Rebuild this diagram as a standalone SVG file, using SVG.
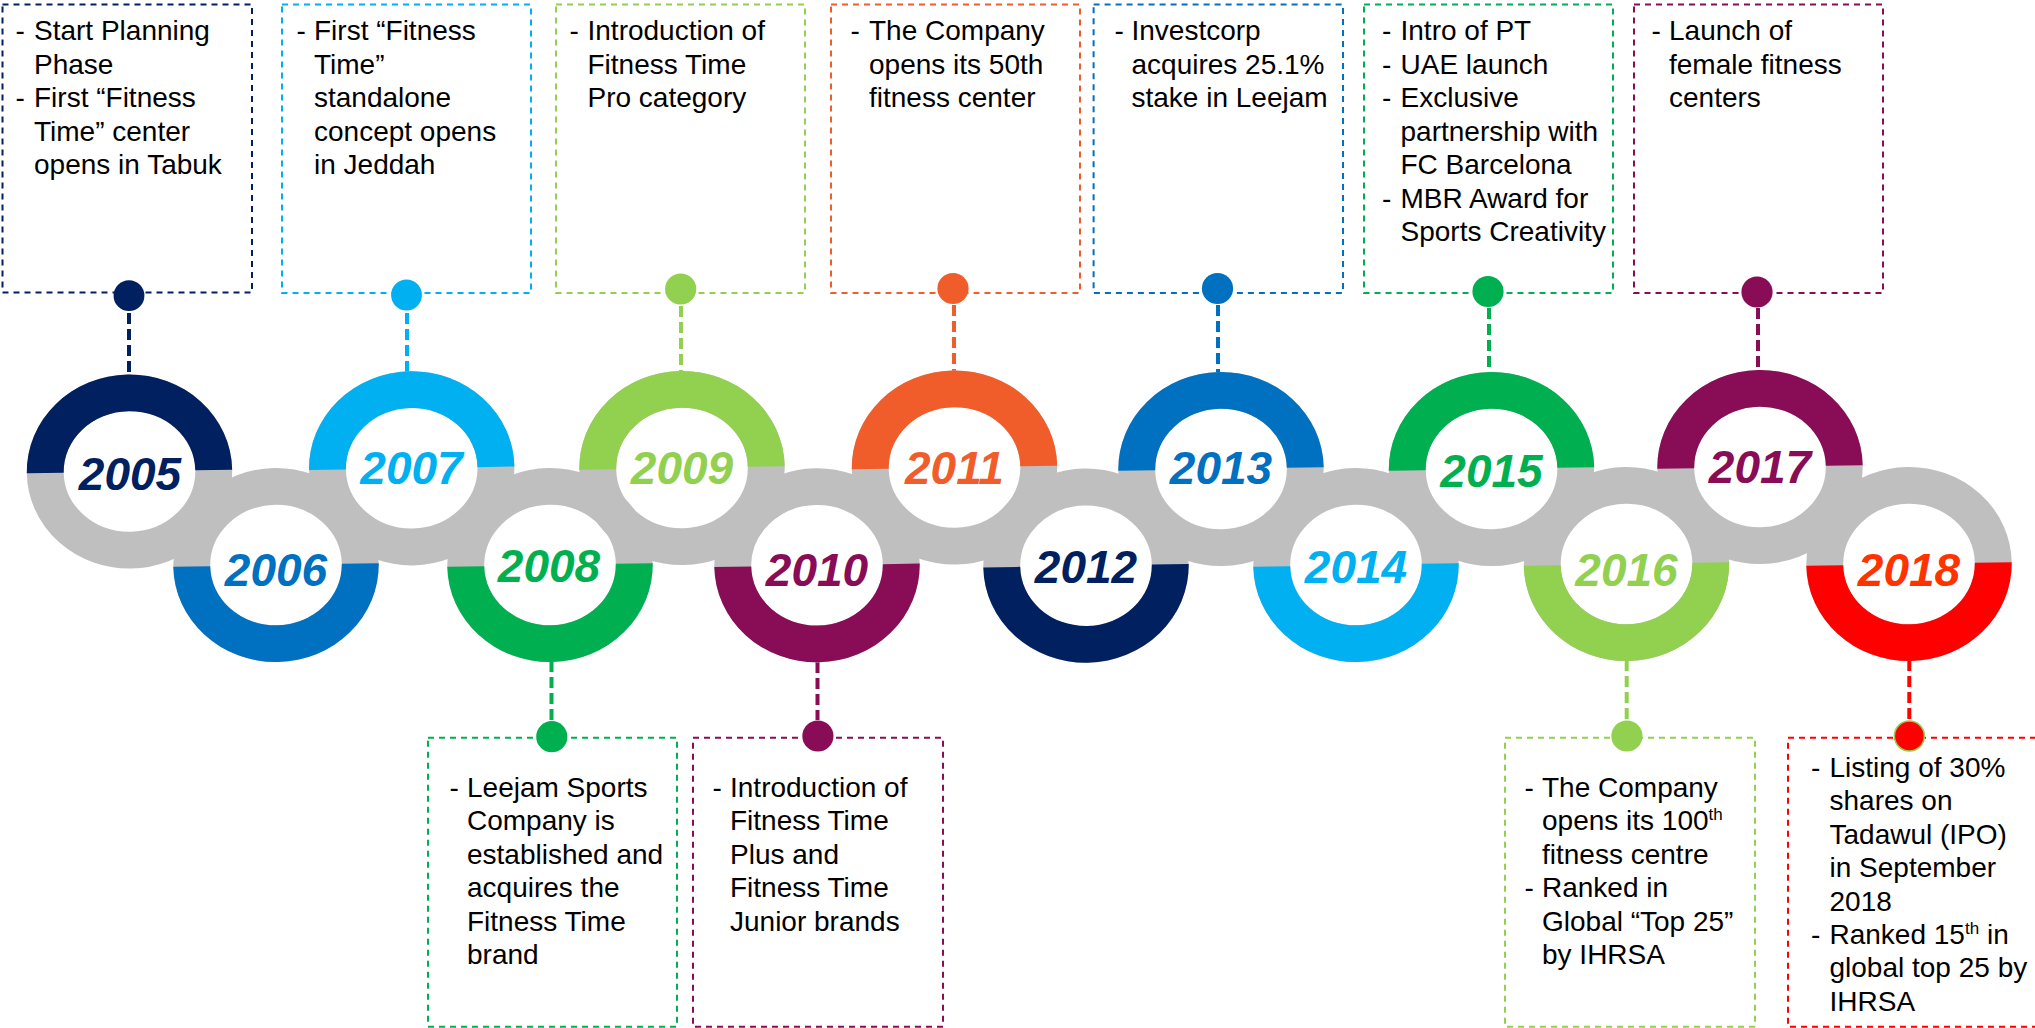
<svg xmlns="http://www.w3.org/2000/svg" xmlns:xlink="http://www.w3.org/1999/xlink" width="2035" height="1028" viewBox="0 0 2035 1028">
<style>
.t{font-family:'Liberation Sans',Arial,sans-serif;font-size:28px;fill:#000}
.yr{font-family:'Liberation Sans',Arial,sans-serif;font-size:46px;font-weight:bold;font-style:italic;text-anchor:middle}
.box{fill:none;stroke-width:2;stroke-dasharray:6 5}
.con{fill:none;stroke-width:4;stroke-dasharray:11 5}
.sup{font-size:17px}
</style>
<defs>
<ellipse id="ringG" cx="0" cy="0" rx="84.25" ry="78.65" fill="none" stroke="#BFBFBF" stroke-width="36.9"/>
<path id="halfT" d="M-102.7,0 A102.7,97 0 0 1 102.7,0 L65.8,0 A65.8,60.3 0 0 0 -65.8,0 Z"/>
<path id="halfB" d="M-102.7,0 A102.7,97 0 0 0 102.7,0 L65.8,0 A65.8,60.3 0 0 1 -65.8,0 Z"/>
</defs>
<rect width="2035" height="1028" fill="#fff"/>

<g id="connectors">
<line class="con" stroke="#002060" x1="129" y1="313" x2="129" y2="375"/>
<line class="con" stroke="#00B0F0" x1="407" y1="313" x2="407" y2="372"/>
<line class="con" stroke="#92D050" x1="681" y1="306" x2="681" y2="371"/>
<line class="con" stroke="#F15D2A" x1="954" y1="305" x2="954" y2="371"/>
<line class="con" stroke="#0070C0" x1="1218" y1="305" x2="1218" y2="373"/>
<line class="con" stroke="#00B050" x1="1489" y1="308" x2="1489" y2="373"/>
<line class="con" stroke="#880C56" x1="1758" y1="308" x2="1758" y2="371"/>
<line class="con" stroke="#00B050" x1="551.5" y1="661" x2="551.5" y2="720"/>
<line class="con" stroke="#880C56" x1="817.5" y1="662" x2="817.5" y2="720"/>
<line class="con" stroke="#92D050" x1="1626.7" y1="660" x2="1626.7" y2="720"/>
<line class="con" stroke="#FF0000" x1="1909.3" y1="660" x2="1909.3" y2="720"/>
</g>

<g id="y2005">
<rect class="box" stroke="#002060" x="2.5" y="4.5" width="249.5" height="288"/>
<circle cx="129" cy="295.7" r="15.4" fill="#002060"/>
<g transform="translate(129.5 471.5) rotate(-1)"><use xlink:href="#ringG"/><use xlink:href="#halfT" fill="#002060"/></g>
<text class="yr" x="130" y="490" fill="#002060">2005</text>
<text class="t" x="15.5" y="40">-</text><text class="t" x="34" y="40">Start Planning</text>
<text class="t" x="34" y="73.5">Phase</text>
<text class="t" x="15.5" y="107">-</text><text class="t" x="34" y="107">First “Fitness</text>
<text class="t" x="34" y="140.5">Time” center</text>
<text class="t" x="34" y="174">opens in Tabuk</text>
</g>

<g id="y2006">
<g transform="translate(276 565) rotate(-1)"><use xlink:href="#ringG"/><use xlink:href="#halfB" fill="#0070C0"/></g>
<text class="yr" x="276" y="586" fill="#0070C0">2006</text>
</g>

<g id="y2007">
<rect class="box" stroke="#00B0F0" x="282" y="4.5" width="249" height="288.5"/>
<circle cx="406.5" cy="295" r="15.4" fill="#00B0F0"/>
<g transform="translate(411.7 468.3) rotate(-1)"><use xlink:href="#ringG"/><use xlink:href="#halfT" fill="#00B0F0"/></g>
<text class="yr" x="411.5" y="484" fill="#00B0F0">2007</text>
<text class="t" x="296.5" y="40">-</text><text class="t" x="314" y="40">First “Fitness</text>
<text class="t" x="314" y="73.5">Time”</text>
<text class="t" x="314" y="107">standalone</text>
<text class="t" x="314" y="140.5">concept opens</text>
<text class="t" x="314" y="174">in Jeddah</text>
</g>

<g id="y2008">
<rect class="box" stroke="#00B050" x="428" y="737.7" width="249" height="289"/>
<circle cx="551.8" cy="736.7" r="15.6" fill="#00B050"/>
<g transform="translate(550 565) rotate(-1)"><use xlink:href="#ringG"/><use xlink:href="#halfB" fill="#00B050"/></g>
<text class="yr" x="549" y="582" fill="#00B050">2008</text>
<text class="t" x="449.5" y="797">-</text><text class="t" x="467" y="797">Leejam Sports</text>
<text class="t" x="467" y="830.4">Company is</text>
<text class="t" x="467" y="863.8">established and</text>
<text class="t" x="467" y="897.2">acquires the</text>
<text class="t" x="467" y="930.6">Fitness Time</text>
<text class="t" x="467" y="964">brand</text>
</g>

<g id="y2009">
<rect class="box" stroke="#92D050" x="556" y="4.5" width="249" height="288.5"/>
<circle cx="680.7" cy="289" r="15.6" fill="#92D050"/>
<g transform="translate(682 468) rotate(-1)"><use xlink:href="#ringG"/><use xlink:href="#halfT" fill="#92D050"/></g>
<text class="yr" x="682" y="484" fill="#92D050">2009</text>
<text class="t" x="569.5" y="40">-</text><text class="t" x="587.5" y="40">Introduction of</text>
<text class="t" x="587.5" y="73.5">Fitness Time</text>
<text class="t" x="587.5" y="107">Pro category</text>
</g>

<g id="y2010">
<rect class="box" stroke="#880C56" x="693" y="737.7" width="250" height="289"/>
<circle cx="817.9" cy="736" r="15.6" fill="#880C56"/>
<g transform="translate(817 565.3) rotate(-1)"><use xlink:href="#ringG"/><use xlink:href="#halfB" fill="#880C56"/></g>
<text class="yr" x="817" y="586" fill="#880C56">2010</text>
<text class="t" x="712.5" y="797">-</text><text class="t" x="730" y="797">Introduction of</text>
<text class="t" x="730" y="830.4">Fitness Time</text>
<text class="t" x="730" y="863.8">Plus and</text>
<text class="t" x="730" y="897.2">Fitness Time</text>
<text class="t" x="730" y="930.6">Junior brands</text>
</g>

<g id="y2011">
<rect class="box" stroke="#F15D2A" x="831" y="4.5" width="249" height="288.5"/>
<circle cx="953" cy="288.5" r="15.6" fill="#F15D2A"/>
<g transform="translate(954.5 467.5) rotate(-1)"><use xlink:href="#ringG"/><use xlink:href="#halfT" fill="#F15D2A"/></g>
<text class="yr" x="954.5" y="484" fill="#F15D2A">2011</text>
<text class="t" x="850.5" y="40">-</text><text class="t" x="869" y="40">The Company</text>
<text class="t" x="869" y="73.5">opens its 50th</text>
<text class="t" x="869" y="107">fitness center</text>
</g>

<g id="y2012">
<g transform="translate(1086 565.7) rotate(-1)"><use xlink:href="#ringG"/><use xlink:href="#halfB" fill="#002060"/></g>
<text class="yr" x="1086" y="583" fill="#002060">2012</text>
</g>

<g id="y2013">
<rect class="box" stroke="#0070C0" x="1093.6" y="4.5" width="249.4" height="288.5"/>
<circle cx="1217.5" cy="288.5" r="15.6" fill="#0070C0"/>
<g transform="translate(1221 469) rotate(-1)"><use xlink:href="#ringG"/><use xlink:href="#halfT" fill="#0070C0"/></g>
<text class="yr" x="1221" y="484" fill="#0070C0">2013</text>
<text class="t" x="1114.5" y="40">-</text><text class="t" x="1131.5" y="40">Investcorp</text>
<text class="t" x="1131.5" y="73.5">acquires 25.1%</text>
<text class="t" x="1131.5" y="107">stake in Leejam</text>
</g>

<g id="y2014">
<g transform="translate(1356 565) rotate(-1)"><use xlink:href="#ringG"/><use xlink:href="#halfB" fill="#00B0F0"/></g>
<text class="yr" x="1356" y="583" fill="#00B0F0">2014</text>
</g>

<g id="y2015">
<rect class="box" stroke="#00B050" x="1364" y="4.5" width="249" height="288.5"/>
<circle cx="1488" cy="291.5" r="15.6" fill="#00B050"/>
<g transform="translate(1491.5 469) rotate(-1)"><use xlink:href="#ringG"/><use xlink:href="#halfT" fill="#00B050"/></g>
<text class="yr" x="1491.5" y="487" fill="#00B050">2015</text>
<text class="t" x="1382" y="40">-</text><text class="t" x="1400.5" y="40">Intro of PT</text>
<text class="t" x="1382" y="73.5">-</text><text class="t" x="1400.5" y="73.5">UAE launch</text>
<text class="t" x="1382" y="107">-</text><text class="t" x="1400.5" y="107">Exclusive</text>
<text class="t" x="1400.5" y="140.5">partnership with</text>
<text class="t" x="1400.5" y="174">FC Barcelona</text>
<text class="t" x="1382" y="207.5">-</text><text class="t" x="1400.5" y="207.5">MBR Award for</text>
<text class="t" x="1400.5" y="241">Sports Creativity</text>
</g>

<g id="y2016">
<rect class="box" stroke="#92D050" x="1505" y="737.7" width="250" height="289"/>
<circle cx="1626.9" cy="736" r="15.6" fill="#92D050"/>
<g transform="translate(1626.5 564) rotate(-1)"><use xlink:href="#ringG"/><use xlink:href="#halfB" fill="#92D050"/></g>
<text class="yr" x="1626.5" y="586" fill="#92D050">2016</text>
<text class="t" x="1524.5" y="797">-</text><text class="t" x="1542" y="797">The Company</text>
<text class="t" x="1542" y="830.4">opens its 100<tspan class="sup" dy="-10">th</tspan></text>
<text class="t" x="1542" y="863.8">fitness centre</text>
<text class="t" x="1524.5" y="897.2">-</text><text class="t" x="1542" y="897.2">Ranked in</text>
<text class="t" x="1542" y="930.6">Global “Top 25”</text>
<text class="t" x="1542" y="964">by IHRSA</text>
</g>

<g id="y2017">
<rect class="box" stroke="#880C56" x="1634" y="4.5" width="249" height="288.5"/>
<circle cx="1757" cy="292" r="15.6" fill="#880C56"/>
<g transform="translate(1760 467) rotate(-1)"><use xlink:href="#ringG"/><use xlink:href="#halfT" fill="#880C56"/></g>
<text class="yr" x="1760" y="483" fill="#880C56">2017</text>
<text class="t" x="1651.5" y="40">-</text><text class="t" x="1669" y="40">Launch of</text>
<text class="t" x="1669" y="73.5">female fitness</text>
<text class="t" x="1669" y="107">centers</text>
</g>

<g id="y2018">
<rect class="box" stroke="#FF0000" x="1788" y="737.7" width="250" height="289"/>
<circle cx="1909.4" cy="736" r="15" fill="#FF0000" stroke="#92D050" stroke-width="1.5"/>
<g transform="translate(1909 564) rotate(-1)"><use xlink:href="#ringG"/><use xlink:href="#halfB" fill="#FF0000"/></g>
<text class="yr" x="1909" y="586" fill="#FF3300">2018</text>
<text class="t" x="1811" y="777">-</text><text class="t" x="1829.5" y="777">Listing of 30%</text>
<text class="t" x="1829.5" y="810.4">shares on</text>
<text class="t" x="1829.5" y="843.8">Tadawul (IPO)</text>
<text class="t" x="1829.5" y="877.2">in September</text>
<text class="t" x="1829.5" y="910.6">2018</text>
<text class="t" x="1811" y="944">-</text><text class="t" x="1829.5" y="944">Ranked 15<tspan class="sup" dy="-10">th</tspan><tspan dy="10"> in</tspan></text>
<text class="t" x="1829.5" y="977.4">global top 25 by</text>
<text class="t" x="1829.5" y="1010.8">IHRSA</text>
</g>
</svg>
